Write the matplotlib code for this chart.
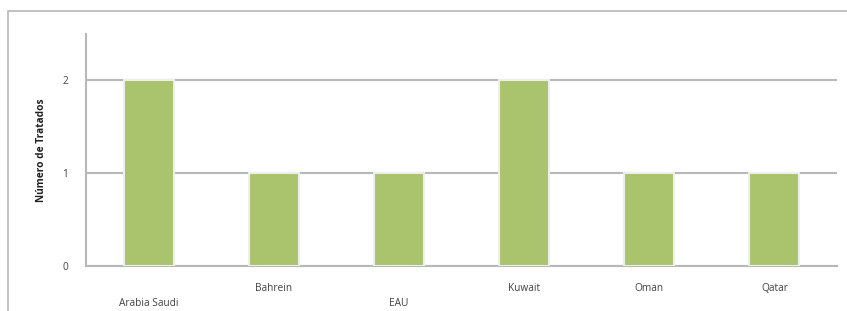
import matplotlib
matplotlib.use('Agg')
import matplotlib.pyplot as plt
from matplotlib.patches import Rectangle
from matplotlib.transforms import ScaledTranslation
import numpy as np

paises = ['Arabia Saudi', 'Bahrein', 'EAU', 'Kuwait', 'Oman', 'Qatar']
tratados = [2, 1, 1, 2, 1, 1]
bajos = ['Arabia Saudi', 'EAU']  # etiquetas desplazadas hacia abajo

plt.rcParams['font.family'] = ['Open Sans', 'DejaVu Sans']

fig = plt.figure(figsize=(8.47, 3.11), dpi=100)
# marco exterior del grafico
fig.patches.append(Rectangle((8/847, -0.1), 1.0, (311-11)/311 + 0.1,
                             transform=fig.transFigure, fill=False,
                             edgecolor='#b8b8b8', linewidth=1.2))

ax = fig.add_axes([86/847, 45/311, (837-86)/847, (266-34)/311])
x = np.arange(len(paises))
ax.bar(x, tratados, width=0.4, color='#a9c46c', edgecolor='#eeeeee',
       linewidth=1.5, zorder=3)

ax.set_xlim(-0.5, len(paises) - 0.5)
ax.set_ylim(0, 2.5)
ax.set_yticks([0, 1, 2])
ax.yaxis.grid(True, color='#b8b8b8', linewidth=1.5, zorder=0)
ax.set_axisbelow(True)

for s in ['top', 'right']:
    ax.spines[s].set_visible(False)
for s in ['left', 'bottom']:
    ax.spines[s].set_color('#b8b8b8')
    ax.spines[s].set_linewidth(1.5)

ax.set_xticks(x)
ax.set_xticklabels(paises, fontsize=7.3, color='#404040')
ax.tick_params(axis='x', length=0, pad=12)
ax.tick_params(axis='y', length=0, pad=13, labelsize=7.3, labelcolor='#404040')

desp = ScaledTranslation(0, -15/100, fig.dpi_scale_trans)
for lab in ax.get_xticklabels():
    if lab.get_text() in bajos:
        lab.set_transform(lab.get_transform() + desp)

ax.set_ylabel('Número de Tratados', fontsize=7.3, fontweight='bold',
              color='#202020', labelpad=11)

fig.savefig('out.png', dpi=100)
